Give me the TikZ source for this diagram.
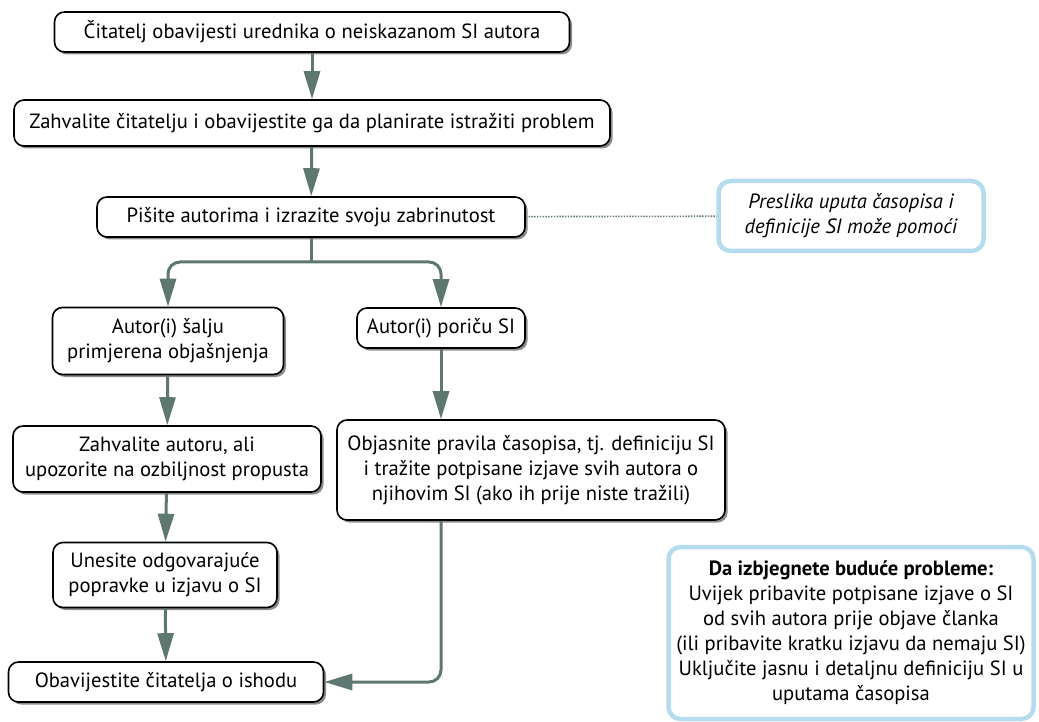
\documentclass[tikz,border=0pt]{standalone}
\usepackage{fontspec}
\setmainfont{PT Sans}
\usetikzlibrary{arrows.meta,shadows}
\definecolor{linkgray}{HTML}{5E7771}
\definecolor{noteblue}{HTML}{B5DCEE}
\begin{document}
\begin{tikzpicture}[x=1pt, y=-1pt,
  b/.style={draw, line width=1.6pt, rounded corners=10pt, fill=white, align=center,
    inner sep=0pt, font=\fontsize{20.6}{25}\selectfont,
    drop shadow={shadow xshift=2.5pt, shadow yshift=-2.5pt, fill=black!45, opacity=1}},
  n/.style={draw=noteblue, line width=4.5pt, rounded corners=12pt, fill=white, align=center,
    inner sep=0pt, font=\fontsize{20.6}{25}\selectfont},
  e/.style={line width=3pt, draw=linkgray, -{Triangle[length=28pt, width=16pt, fill=linkgray]}},
  l/.style={line width=3pt, draw=linkgray}
]
\useasboundingbox (0,0) rectangle (1039,722);

\node[b, minimum width=515, minimum height=40] (read) at (312,32)
  {Čitatelj obavijesti urednika o neiskazanom SI autora};
\node[b, minimum width=596, minimum height=46] (thank) at (312,123)
  {Zahvalite čitatelju i obavijestite ga da planirate istražiti problem};
\node[b, minimum width=428, minimum height=40] (write) at (311,217)
  {Pišite autorima i izrazite svoju zabrinutost};
\node[n, minimum width=265, minimum height=70, font=\fontsize{20.6}{25}\selectfont\itshape] (copy) at (851,216)
  {Preslika uputa časopisa i\\ definicije SI može pomoći};

\node[b, minimum width=231, minimum height=67] (send) at (168,341)
  {Autor(i) šalju\\ primjerena objašnjenja};
\node[b, minimum width=168, minimum height=40] (deny) at (441,328)
  {Autor(i) poriču SI};
\node[b, minimum width=308, minimum height=66] (warn) at (167,459)
  {Zahvalite autoru, ali\\ upozorite na ozbiljnost propusta};
\node[b, minimum width=388, minimum height=100] (rules) at (531,470)
  {Objasnite pravila časopisa, tj. definiciju SI\\ i tražite potpisane izjave svih autora o\\ njihovim SI (ako ih prije niste tražili)};
\node[b, minimum width=224, minimum height=65] (fix) at (165,575)
  {Unesite odgovarajuće\\ popravke u izjavu o SI};
\node[b, minimum width=315, minimum height=40] (tell) at (166,682)
  {Obavijestite čitatelja o ishodu};

\node[n, minimum width=365, minimum height=172] (future) at (851,633)
  {\textbf{Da izbjegnete buduće probleme:}\\ Uvijek pribavite potpisane izjave o SI\\
   od svih autora prije objave članka\\ (ili pribavite kratku izjavu da nemaju SI)\\
   Uključite jasnu i detaljnu definiciju SI u\\ uputama časopisa};

% main flow
\draw[e] (read) -- (thank);
\draw[e] (thank) -- (write);
\draw[linkgray, line width=1.6pt, dash pattern=on 1.4pt off 1.4pt] (write) -- (copy);

% fork
\coordinate (fork) at (311,262);
\draw[l] (write) -- (fork);
\draw[e, rounded corners=12pt] (fork) -| (send);
\draw[e, rounded corners=12pt] (fork) -| (deny);

\draw[e] (send) -- (warn);
\draw[e] (warn) -- (fix);
\draw[e] (fix) -- (tell);
\draw[e] (deny) -- (deny |- rules.north);
\draw[e, rounded corners=12pt] (deny |- rules.south) |- (tell);
\end{tikzpicture}
\end{document}
